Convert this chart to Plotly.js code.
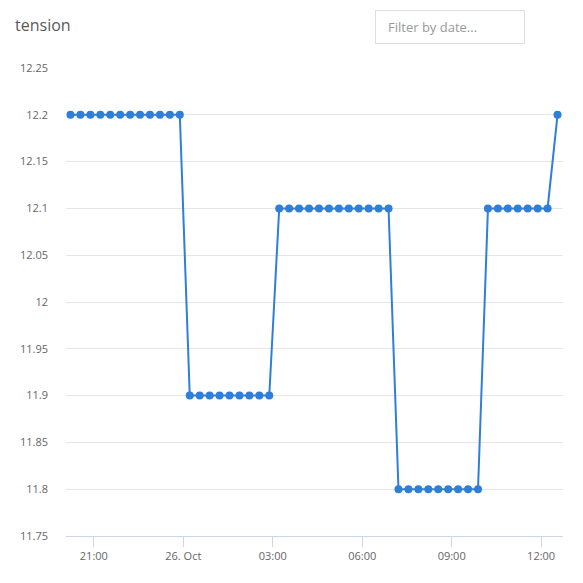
<!DOCTYPE html>
<html>
<head>
<meta charset="utf-8">
<script src="https://cdn.plot.ly/plotly-3.0.1.min.js"></script>
<style>
  html, body { margin: 0; padding: 0; background: #fff; }
  #wrap { position: relative; width: 583px; height: 583px; }
  #chart { position: absolute; left: 0; top: 0; width: 583px; height: 583px; }
  #filter {
    position: absolute; left: 375px; top: 10px; width: 150px; height: 34px;
    border: 1px solid #dedede; box-sizing: border-box;
    font-family: "Open Sans", sans-serif; font-size: 13px; color: #9a9a9a;
    line-height: 32px; padding-left: 12px; background: #fff;
  }
</style>
</head>
<body>
<div id="wrap">
  <div id="chart"></div>
  <div id="filter">Filter by date...</div>
</div>
<script>
const chartTitle = "tension";
const times = [
  "2019-10-25 20:13","2019-10-25 20:33","2019-10-25 20:53","2019-10-25 21:13","2019-10-25 21:33","2019-10-25 21:53",
  "2019-10-25 22:13","2019-10-25 22:33","2019-10-25 22:53","2019-10-25 23:13","2019-10-25 23:33","2019-10-25 23:53",
  "2019-10-26 00:13","2019-10-26 00:33","2019-10-26 00:53","2019-10-26 01:13","2019-10-26 01:33","2019-10-26 01:53",
  "2019-10-26 02:13","2019-10-26 02:33","2019-10-26 02:53",
  "2019-10-26 03:13","2019-10-26 03:33","2019-10-26 03:53","2019-10-26 04:13","2019-10-26 04:33","2019-10-26 04:53",
  "2019-10-26 05:13","2019-10-26 05:33","2019-10-26 05:53","2019-10-26 06:13","2019-10-26 06:33","2019-10-26 06:53",
  "2019-10-26 07:13","2019-10-26 07:33","2019-10-26 07:53","2019-10-26 08:13","2019-10-26 08:33","2019-10-26 08:53",
  "2019-10-26 09:13","2019-10-26 09:33","2019-10-26 09:53",
  "2019-10-26 10:13","2019-10-26 10:33","2019-10-26 10:53","2019-10-26 11:13","2019-10-26 11:33","2019-10-26 11:53",
  "2019-10-26 12:13",
  "2019-10-26 12:33"
];
const tension = [
  12.2,12.2,12.2,12.2,12.2,12.2,12.2,12.2,12.2,12.2,12.2,12.2,
  11.9,11.9,11.9,11.9,11.9,11.9,11.9,11.9,11.9,
  12.1,12.1,12.1,12.1,12.1,12.1,12.1,12.1,12.1,12.1,12.1,12.1,
  11.8,11.8,11.8,11.8,11.8,11.8,11.8,11.8,11.8,
  12.1,12.1,12.1,12.1,12.1,12.1,12.1,
  12.2
];
const xTickVals = ["2019-10-25 21:00","2019-10-26 00:00","2019-10-26 03:00","2019-10-26 06:00","2019-10-26 09:00","2019-10-26 12:00"];
const xTickText = ["21:00","26. Oct","03:00","06:00","09:00","12:00"];
const yTickVals = [11.75,11.8,11.85,11.9,11.95,12,12.05,12.1,12.15,12.2,12.25];
const yTickText = ["11.75","11.8","11.85","11.9","11.95","12","12.05","12.1","12.15","12.2","12.25"];

const trace = {
  x: times, y: tension, type: "scatter", mode: "lines+markers",
  line: { color: "#2f7ed8", width: 2 },
  marker: { color: "#2f7ed8", size: 8 },
  hoverinfo: "x+y"
};
const layout = {
  width: 583, height: 583,
  margin: { l: 66, r: 20, t: 68, b: 47 },
  paper_bgcolor: "#fff", plot_bgcolor: "#fff",
  showlegend: false,
  font: { family: "Open Sans, sans-serif", size: 11, color: "#666" },
  title: { text: chartTitle, x: 15 / 583, xref: "container", xanchor: "left",
           y: 1 - 25 / 583, yref: "container", yanchor: "middle",
           font: { size: 16, color: "#5a5a5a", family: "Open Sans, sans-serif" } },
  xaxis: {
    type: "date", range: ["2019-10-25 20:04", "2019-10-26 12:44"],
    tickmode: "array", tickvals: xTickVals, ticktext: xTickText,
    showgrid: false, zeroline: false,
    showline: true, linecolor: "#ccd6eb", linewidth: 1,
    ticks: "outside", ticklen: 10, tickcolor: "#ccd6eb", tickwidth: 1,
    tickfont: { size: 11, color: "#666" }, fixedrange: true
  },
  yaxis: {
    range: [11.75, 12.25], tickmode: "array", tickvals: yTickVals, ticktext: yTickText,
    showgrid: true, gridcolor: "#e6e6e6", gridwidth: 1, zeroline: false,
    showline: false, ticks: "", ticklabelstandoff: 17,
    tickfont: { size: 11, color: "#666" }, fixedrange: true
  }
};
Plotly.newPlot("chart", [trace], layout, { displayModeBar: false });
</script>
</body>
</html>
